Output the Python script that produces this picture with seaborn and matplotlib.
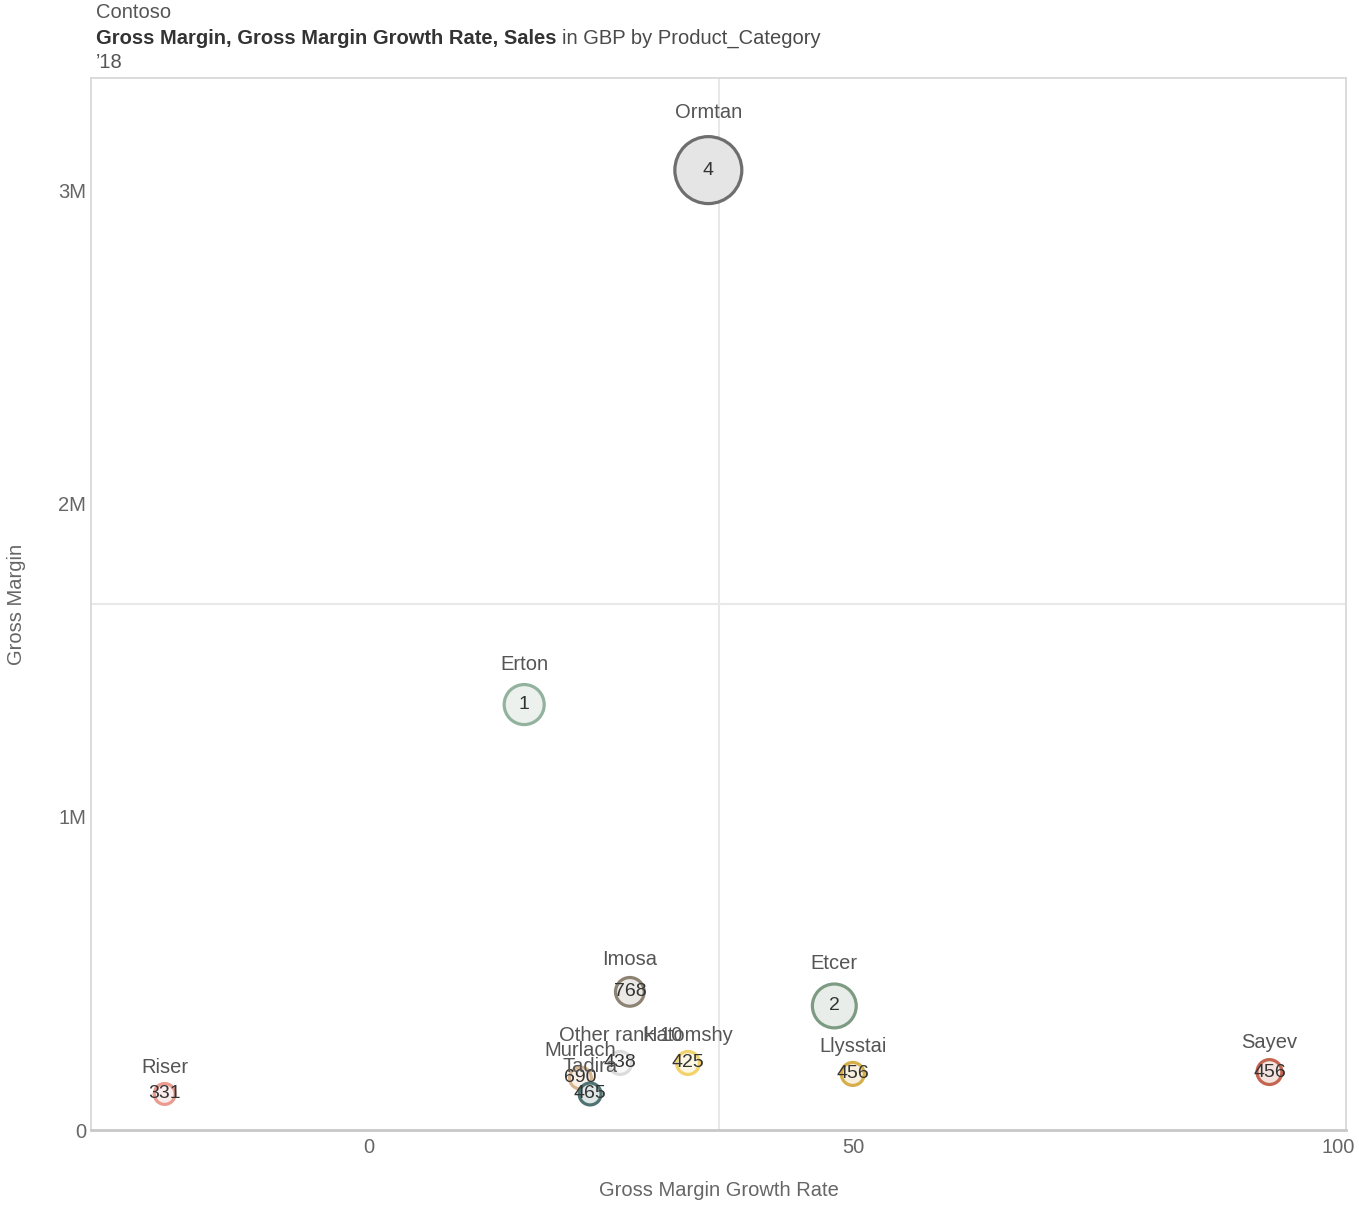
import matplotlib
matplotlib.use("Agg")
import matplotlib.pyplot as plt
import seaborn as sns
import pandas as pd
import numpy as np

# ---------------- data ----------------
categories = ["Ormtan", "Etcer", "Erton", "Imosa", "Sayev", "Llysstai", "Riser",
              "Hatomshy", "Other rank 10", "Murlach", "Tadira"]
growth_rate = [35.0, 48.0, 16.0, 26.9, 92.9, 49.9, -21.1, 32.9, 25.9, 21.8, 22.8]
gross_margin = [3.064e6, 0.396e6, 1.358e6, 0.441e6, 0.185e6, 0.179e6, 0.115e6,
                0.214e6, 0.214e6, 0.166e6, 0.115e6]
sales = [9.8e6, 4.2e6, 3.5e6, 1.8e6, 1.35e6, 1.15e6, 0.95e6, 1.15e6, 1.15e6, 1.05e6, 1.05e6]
rank_labels = ["4", "2", "1", "768", "456", "456", "331", "425", "438", "690", "465"]
edge_colors = ["#6e6e6e", "#7d9b83", "#93b29e", "#8c8373", "#c4664f", "#d6ae4a",
               "#eb9a90", "#f2d36b", "#dcdcdc", "#d8b48e", "#4f7373"]
x_ticks = [0, 50, 100]
y_ticks = [0, 1e6, 2e6, 3e6]
y_tick_labels = ["0", "1M", "2M", "3M"]


def lighten(c, f):
    rgb = np.array(matplotlib.colors.to_rgb(c))
    return tuple(1 - (1 - rgb) * f)


fill_colors = [lighten(c, 0.18) for c in edge_colors]

df = pd.DataFrame({"Product_Category": categories, "Gross Margin Growth Rate": growth_rate,
                   "Gross Margin": gross_margin, "Sales": sales})

# ---------------- figure ----------------
W, H = 1359, 1208
sns.set_theme(style="white")
plt.rcParams["font.family"] = ["Liberation Sans", "DejaVu Sans"]
fs = 14.5

fig = plt.figure(figsize=(W / 100, H / 100), dpi=100)
ax = fig.add_axes([91 / W, 1 - 1130 / H, (1346 - 91) / W, (1130 - 78) / H])

lw = 2.3
smax = 2325
sns.scatterplot(data=df, x="Gross Margin Growth Rate", y="Gross Margin",
                hue="Product_Category", palette=dict(zip(categories, fill_colors)),
                size="Sales", sizes=(0, smax), size_norm=(0, max(sales)),
                edgecolor=edge_colors, linewidth=lw, legend=False, ax=ax, zorder=2)

xlim = (-28.7, 100.8)
ylim = (0, 3.358e6)
ax.set_xlim(*xlim)
ax.set_ylim(*ylim)

# mid lines
ax.axvline(np.mean(xlim), color="#e8e8e8", lw=1.5, zorder=1)
ax.axhline(np.mean(ylim), color="#e8e8e8", lw=1.5, zorder=1)

# labels
for cat, x, y, s, rl in zip(categories, growth_rate, gross_margin, sales, rank_labels):
    area = smax * s / max(sales)
    r_pt = np.sqrt(area) / 2 + lw / 2
    r_px = r_pt / 0.72
    off_px = 1.37 * r_px + 10
    ax.annotate(cat, (x, y), xytext=(0, off_px * 0.72), textcoords="offset points",
                ha="center", va="center", fontsize=fs, color="#555555", zorder=4)
    ax.text(x, y, rl, ha="center", va="center", fontsize=14, color="#333333", zorder=4)

ax.set_xticks(x_ticks)
ax.set_xticklabels([str(v) for v in x_ticks])
ax.set_yticks(y_ticks)
ax.set_yticklabels(y_tick_labels)
ax.tick_params(axis="both", length=0, labelsize=fs, labelcolor="#666666")
ax.tick_params(axis="x", pad=6)
ax.tick_params(axis="y", pad=3.5)

for side, sp in ax.spines.items():
    sp.set_color("#d6d6d6")
    sp.set_linewidth(1.2)
ax.spines["bottom"].set_color("#c8c8c8")
ax.spines["bottom"].set_linewidth(2)

ax.set_xlabel("Gross Margin Growth Rate", fontsize=fs, color="#666666")
ax.set_ylabel("Gross Margin", fontsize=fs, color="#666666")
ax.xaxis.set_label_coords(0.5, (1130 - 1181) / 1052)
ax.yaxis.set_label_coords((26 - 91) / 1255, 0.5)

# title block
fig.text(96 / W, 1 - 12 / H, "Contoso", fontsize=fs, color="#555555", ha="left", va="center")
fig.text(96 / W, 1 - 63 / H, "\u201918", fontsize=fs, color="#555555", ha="left", va="center")
fig.canvas.draw()
rend = fig.canvas.get_renderer()
t1 = fig.text(96 / W, 1 - 38 / H, "Gross Margin, Gross Margin Growth Rate, Sales",
              fontsize=fs, fontweight="bold", color="#333333", ha="left", va="center")
bb = t1.get_window_extent(renderer=rend)
fig.text((bb.x1 + 6) / W, 1 - 38 / H, "in GBP by Product_Category",
         fontsize=fs, color="#4a4a4a", ha="left", va="center")

fig.savefig("out.png", dpi=100)
